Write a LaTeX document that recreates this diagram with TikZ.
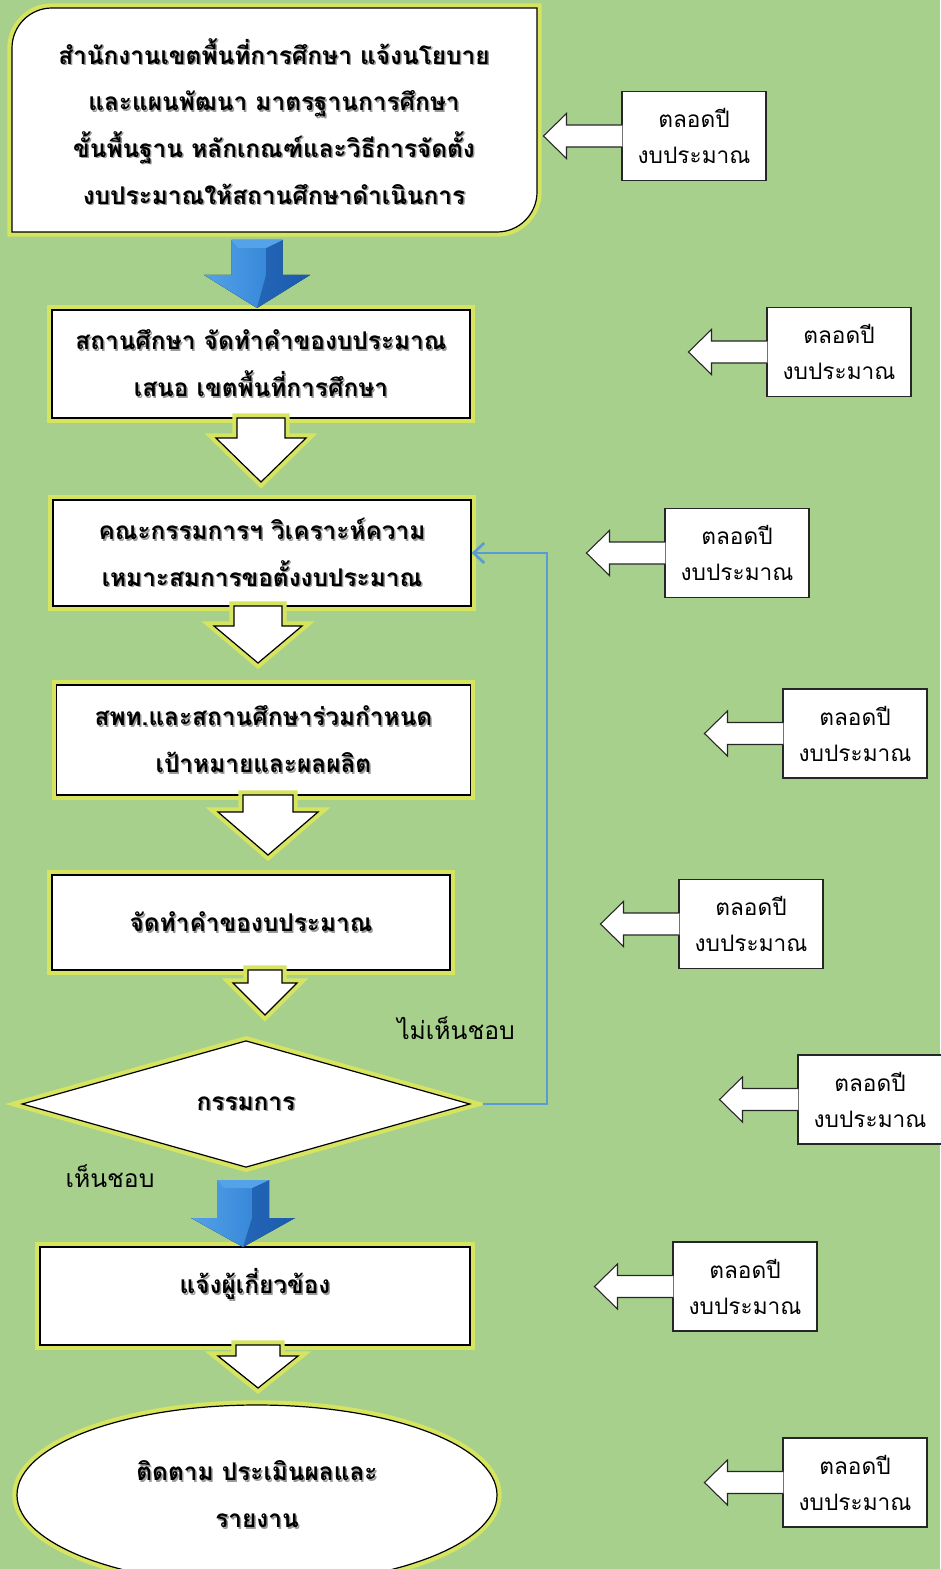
\documentclass[tikz,border=0pt]{standalone}
\usepackage{fontspec}
\newfontfamily\thaifont[Script=Thai]{Loma}
\usetikzlibrary{shapes.geometric,arrows.meta}

\definecolor{bggreen}{RGB}{168,208,141}
\definecolor{glow}{RGB}{214,228,96}
\definecolor{loopblue}{RGB}{91,155,213}
\definecolor{arrowblue}{RGB}{36,118,208}
\definecolor{arrowdark}{RGB}{18,70,150}
\definecolor{arrowlight}{RGB}{84,162,232}

\newcommand{\shd}[1]{\leavevmode\rlap{\hspace{1.1pt}\raisebox{-1.1pt}{\textcolor{black!40}{#1}}}#1}

\tikzset{
  boxtext/.style={font=\thaifont\bfseries\fontsize{18.3}{35}\selectfont, align=center, inner sep=0pt},
  mainbox/.style={boxtext, draw=black, fill=white, line width=0.9pt, preaction={draw=glow, line width=7pt}},
  glowshape/.style={draw=black, fill=white, line width=0.9pt, preaction={draw=glow, line width=7pt}},
  notebox/.style={draw=black!85, fill=white, line width=0.8pt, font=\thaifont\fontsize{17}{27}\selectfont, align=center, inner sep=0pt, minimum width=108pt, minimum height=66.75pt},
  noteline/.style={draw=black!85, fill=white, line width=0.8pt},
  tag/.style={font=\thaifont\fontsize{18.5}{22}\selectfont, inner sep=0pt},
  loopline/.style={draw=loopblue, line width=2pt, -{Straight Barb[length=8pt,width=15pt]}},
}

\begin{document}
\begin{tikzpicture}[x=0.75pt,y=0.75pt,yscale=-1,xscale=1]
\useasboundingbox (0,0) rectangle (940,1569);
\fill[bggreen] (0,0) rectangle (940,1569);

%Shape: Round Diagonal Rectangle
\draw[glowshape] (12,120) [rounded corners=30pt] -- (12,8) -- (300,8) [sharp corners] -- (537,8) -- (537,120) [rounded corners=30pt] -- (537,232) -- (300,232) [sharp corners] -- (12,232) -- cycle ;
% Text Node
\node (box1) [boxtext] at (274,122) {\shd{สำนักงานเขตพื้นที่การศึกษา แจ้งนโยบาย}\\\shd{และแผนพัฒนา มาตรฐานการศึกษา}\\\shd{ขั้นพื้นฐาน หลักเกณฑ์และวิธีการจัดตั้ง}\\\shd{งบประมาณให้สถานศึกษาดำเนินการ}};

%Shape: Boxes
\node (box2) [mainbox, minimum width=313.5pt, minimum height=81pt] at (261,364) {\shd{สถานศึกษา จัดทำคำของบประมาณ}\\\shd{เสนอ เขตพื้นที่การศึกษา}};
\node (box3) [mainbox, minimum width=313.5pt, minimum height=79.5pt] at (262,553) {\shd{คณะกรรมการฯ วิเคราะห์ความ}\\\shd{เหมาะสมการขอตั้งงบประมาณ}};
\node (box4) [mainbox, minimum width=310pt, minimum height=82.5pt] at (263.5,740) {\shd{สพท.และสถานศึกษาร่วมกำหนด}\\\shd{เป้าหมายและผลผลิต}};
\node (box5) [mainbox, minimum width=298.5pt, minimum height=71.25pt] at (251,922.5) {\shd{จัดทำคำของบประมาณ}};
%Shape: Diamond
\node (diam) [mainbox, diamond, minimum width=336pt, minimum height=95pt] at (246,1104) {\shd{กรรมการ}};
\node (box6) [mainbox, minimum width=322.5pt, minimum height=73.5pt, text depth=22pt] at (255,1296) {\shd{แจ้งผู้เกี่ยวข้อง}};
%Shape: Ellipse
\node (final) [mainbox, ellipse, minimum width=360pt, minimum height=135pt] at (257,1495) {\shd{ติดตาม ประเมินผลและ}\\\shd{รายงาน}};

%Shape: Blue Down Arrow
\fill[left color=arrowlight, right color=arrowblue] (231.5,240) -- (282.5,240) -- (282.5,275) -- (310,275) -- (257,308) -- (204,275) -- (231.5,275) -- cycle ;
\fill[arrowdark, opacity=0.55] (266,248) -- (282.5,240) -- (282.5,275) -- (310,275) -- (257,308) -- (266,275) -- cycle ;
\fill[arrowlight] (231.5,240) -- (282.5,240) -- (266,248) -- (238,248) -- cycle ;
%Shape: Blue Down Arrow
\fill[left color=arrowlight, right color=arrowblue] (217,1180) -- (269,1180) -- (269,1218) -- (295,1218) -- (243,1247) -- (191,1218) -- (217,1218) -- cycle ;
\fill[arrowdark, opacity=0.55] (252,1188) -- (269,1180) -- (269,1218) -- (295,1218) -- (243,1247) -- (252,1218) -- cycle ;
\fill[arrowlight] (217,1180) -- (269,1180) -- (252,1188) -- (224,1188) -- cycle ;

%Shape: Down Arrows
\draw[glowshape] (237,418) -- (285,418) -- (285,438) -- (306,438) -- (261,482) -- (216,438) -- (237,438) -- cycle ;
\draw[glowshape] (234,606) -- (282,606) -- (282,626) -- (302,626) -- (258,663) -- (214,626) -- (234,626) -- cycle ;
\draw[glowshape] (243,795) -- (293,795) -- (293,812) -- (318,812) -- (268,855) -- (218,812) -- (243,812) -- cycle ;
\draw[glowshape] (248,970) -- (282,970) -- (282,983) -- (297,983) -- (265,1015) -- (233,983) -- (248,983) -- cycle ;
\draw[glowshape] (236,1345) -- (280,1345) -- (280,1356) -- (298,1356) -- (258,1388) -- (218,1356) -- (236,1356) -- cycle ;

%Straight Lines
\coordinate (turn) at (547,1104);
\draw[loopline, shorten <=9pt] (diam.east) -- (turn) |- (box3.east) ;

% Text Node
\node (no) [tag] at (456,1028) {ไม่เห็นชอบ};
% Text Node
\node (yes) [tag] at (110,1176) {เห็นชอบ};

%Shape: Left Arrow Callouts
\node (note1) [notebox] at (694,136) {ตลอดปี\\งบประมาณ};
\draw[noteline] (note1.west) ++(1,-11) -- ++(-56,0) -- ++(0,-11.5) -- ++(-23,22.5) -- ++(23,22.5) -- ++(0,-11.5) -- ++(56,0) ;
\node (note2) [notebox] at (839,352) {ตลอดปี\\งบประมาณ};
\draw[noteline] (note2.west) ++(1,-11) -- ++(-56,0) -- ++(0,-11.5) -- ++(-23,22.5) -- ++(23,22.5) -- ++(0,-11.5) -- ++(56,0) ;
\node (note3) [notebox] at (737,553) {ตลอดปี\\งบประมาณ};
\draw[noteline] (note3.west) ++(1,-11) -- ++(-56,0) -- ++(0,-11.5) -- ++(-23,22.5) -- ++(23,22.5) -- ++(0,-11.5) -- ++(56,0) ;
\node (note4) [notebox] at (855,733.5) {ตลอดปี\\งบประมาณ};
\draw[noteline] (note4.west) ++(1,-11) -- ++(-56,0) -- ++(0,-11.5) -- ++(-23,22.5) -- ++(23,22.5) -- ++(0,-11.5) -- ++(56,0) ;
\node (note5) [notebox] at (751,924) {ตลอดปี\\งบประมาณ};
\draw[noteline] (note5.west) ++(1,-11) -- ++(-56,0) -- ++(0,-11.5) -- ++(-23,22.5) -- ++(23,22.5) -- ++(0,-11.5) -- ++(56,0) ;
\node (note6) [notebox] at (870,1099.5) {ตลอดปี\\งบประมาณ};
\draw[noteline] (note6.west) ++(1,-11) -- ++(-56,0) -- ++(0,-11.5) -- ++(-23,22.5) -- ++(23,22.5) -- ++(0,-11.5) -- ++(56,0) ;
\node (note7) [notebox] at (745,1286.5) {ตลอดปี\\งบประมาณ};
\draw[noteline] (note7.west) ++(1,-11) -- ++(-56,0) -- ++(0,-11.5) -- ++(-23,22.5) -- ++(23,22.5) -- ++(0,-11.5) -- ++(56,0) ;
\node (note8) [notebox] at (855,1482.5) {ตลอดปี\\งบประมาณ};
\draw[noteline] (note8.west) ++(1,-11) -- ++(-56,0) -- ++(0,-11.5) -- ++(-23,22.5) -- ++(23,22.5) -- ++(0,-11.5) -- ++(56,0) ;

\end{tikzpicture}
\end{document}
